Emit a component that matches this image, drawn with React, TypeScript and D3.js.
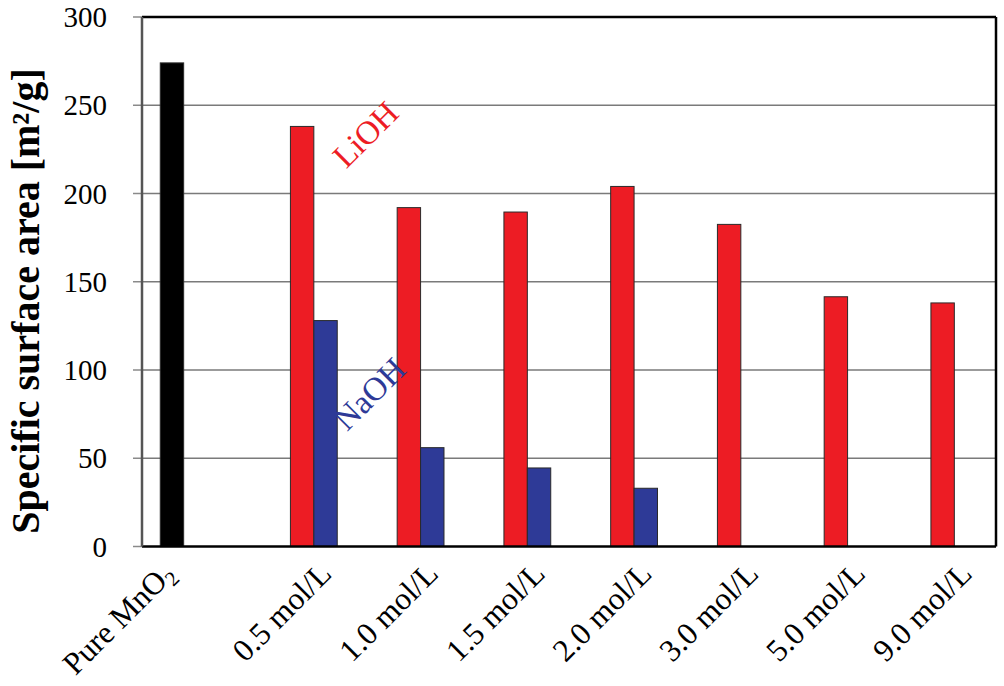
import React from "react";
import * as d3 from "d3";

const categories = ["Pure MnO2", "0.5 mol/L", "1.0 mol/L", "1.5 mol/L", "2.0 mol/L", "3.0 mol/L", "5.0 mol/L", "9.0 mol/L"];
const seriesNames = ["Pure", "LiOH", "NaOH"];
const pureValues: (number | null)[] = [274, null, null, null, null, null, null, null];
const liohValues: (number | null)[] = [null, 238, 192, 189.5, 204, 182.5, 141.5, 138];
const naohValues: (number | null)[] = [null, 128, 56, 44.5, 33, null, null, null];
const yTicks = [0, 50, 100, 150, 200, 250, 300];
const seriesColors = ["#000000", "#ED1C24", "#2E3A97"];

const W = 1004;
const H = 686;
const plot = { left: 142, right: 996, top: 17, bottom: 546.5 };
const SERIF = "'Liberation Serif', 'Times New Roman', serif";

export default function App() {
  const x = d3.scaleBand<string>().domain(categories).range([plot.left, plot.right]).paddingInner(0).paddingOuter(0);
  const xs = d3.scaleBand<string>().domain(seriesNames).range([0, x.bandwidth()]).paddingInner(0).paddingOuter(0.78);
  const y = d3.scaleLinear().domain([0, 300]).range([plot.bottom, plot.top]);

  const allSeries = [pureValues, liohValues, naohValues];
  const bars: { cat: string; s: string; v: number; color: string }[] = [];
  allSeries.forEach((vals, si) => {
    vals.forEach((v, ci) => {
      if (v != null) bars.push({ cat: categories[ci], s: seriesNames[si], v, color: seriesColors[si] });
    });
  });

  const cat1 = categories[1];
  const liohLabelX = (x(cat1) as number) + x.bandwidth() + 18;
  const liohLabelY = y(229);
  const naohLabelX = (x(cat1) as number) + x.bandwidth() + 22;
  const naohLabelY = y(82);

  return (
    <svg width={W} height={H} style={{ position: "absolute", left: 0, top: 0, background: "#fff" }} fontFamily={SERIF}>
      <rect x={0} y={0} width={W} height={H} fill="#fff" />
      {yTicks.filter((t) => t > 0 && t < 300).map((t) => (
        <line key={"g" + t} x1={plot.left} x2={plot.right} y1={y(t)} y2={y(t)} stroke="#7a7a7a" strokeWidth={1.5} />
      ))}
      {yTicks.map((t) => (
        <line key={"t" + t} x1={plot.left - 9} x2={plot.left} y1={y(t)} y2={y(t)} stroke="#8a8a8a" strokeWidth={1.5} />
      ))}
      {yTicks.map((t) => (
        <text key={"l" + t} x={107} y={y(t) + 10} textAnchor="end" fontSize={29} fill="#000">
          {t}
        </text>
      ))}
      {bars.map((b, i) => (
        <rect
          key={i}
          x={(x(b.cat) as number) + (xs(b.s) as number)}
          y={y(b.v)}
          width={xs.bandwidth()}
          height={y(0) - y(b.v)}
          fill={b.color}
          stroke="#2a2a2a"
          strokeWidth={1}
        />
      ))}
      <line x1={plot.left} x2={plot.right} y1={plot.top} y2={plot.top} stroke="#000" strokeWidth={2.5} />
      <line x1={plot.right} x2={plot.right} y1={plot.top} y2={plot.bottom} stroke="#000" strokeWidth={2.5} />
      <line x1={plot.left} x2={plot.right} y1={plot.bottom} y2={plot.bottom} stroke="#000" strokeWidth={2.5} />
      <line x1={plot.left} x2={plot.left} y1={plot.top} y2={plot.bottom} stroke="#555" strokeWidth={2.5} />
      {categories.map((c, i) => {
        const cx = (x(c) as number) + x.bandwidth() / 2 + (i === 0 ? -19 : 31);
        const cy = plot.bottom + 29;
        return (
          <text key={c} transform={`translate(${cx},${cy}) rotate(-45)`} textAnchor="end" fontSize={31.5} fill="#000">
            {i === 0 ? (
              <>
                {"Pure MnO"}
                <tspan fontSize={21} dy={6}>2</tspan>
              </>
            ) : (
              c
            )}
          </text>
        );
      })}
      <text transform={`translate(${liohLabelX},${liohLabelY}) rotate(-45)`} textAnchor="middle" fontSize={33} fill="#ED1C24">
        LiOH
      </text>
      <text transform={`translate(${naohLabelX},${naohLabelY}) rotate(-45)`} textAnchor="middle" fontSize={33} fill="#2E3A97">
        NaOH
      </text>
      <text transform={`translate(39,${301}) rotate(-90)`} textAnchor="middle" fontSize={40} fontWeight="bold" fill="#000">
        Specific surface area [m²/g]
      </text>
    </svg>
  );
}
